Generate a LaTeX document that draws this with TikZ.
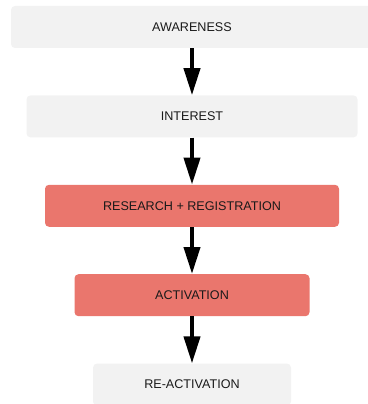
\documentclass[tikz,border=0pt]{standalone}
\usepackage{fontspec}
\setmainfont{Liberation Sans}
\usetikzlibrary{arrows.meta, positioning}
\definecolor{stagegray}{HTML}{F2F2F2}
\definecolor{stagered}{HTML}{EA766D}
\definecolor{stagetext}{HTML}{1A1A1A}

\begin{document}
\begin{tikzpicture}[x=1pt, y=1pt,
        stage/.style={rectangle, rounded corners=4pt, align=center, minimum height=42pt, inner sep=0pt, fill=stagegray, text=stagetext, font=\fontsize{12.6}{15}\selectfont},
        hot/.style={stage, fill=stagered},
        arrow/.style={-{Triangle[width=16pt, length=27pt]}, line width=4pt, black},
        node distance=47pt
        ]

        \useasboundingbox (0,0) rectangle (367,-404);

        % Nodes
        \node (awareness) [stage, minimum width=362pt] at (192,-27) {AWARENESS};
        \node (interest) [stage, minimum width=331pt, below=of awareness] {INTEREST};
        \node (research) [hot, minimum width=294pt, below=of interest] {RESEARCH + REGISTRATION};
        \node (activation) [hot, minimum width=235pt, below=of research] {ACTIVATION};
        \node (reactivation) [stage, minimum width=198pt, below=of activation] {RE-ACTIVATION};

        % Arrows
        \draw [arrow] (awareness) -- (interest);
        \draw [arrow] (interest) -- (research);
        \draw [arrow] (research) -- (activation);
        \draw [arrow] (activation) -- (reactivation);

    \end{tikzpicture}
\end{document}
